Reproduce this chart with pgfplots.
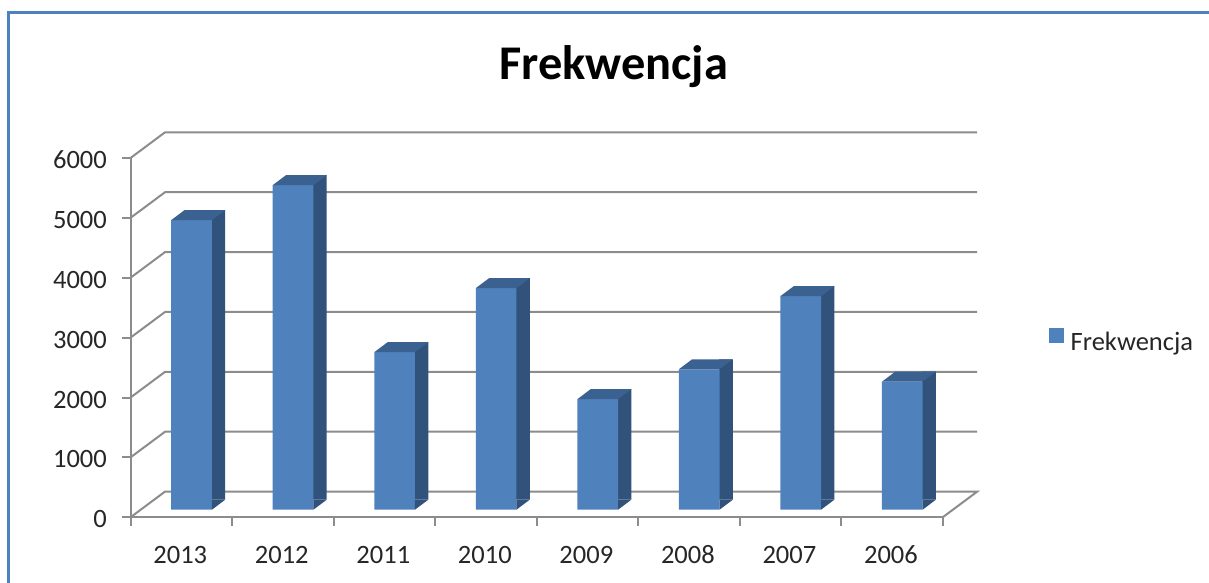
\documentclass[border=0pt]{standalone}
\usepackage{pgfplots}
\pgfplotsset{compat=1.18}
\usepackage{pgfplotstable}
\usepackage{fontspec}
\setmainfont{Carlito}
\definecolor{barfront}{HTML}{4F81BD}
\definecolor{barside}{HTML}{31527B}
\definecolor{bartop}{HTML}{3A6190}
\definecolor{gridgray}{HTML}{8C8C8C}
\pgfdeclareplotmark{topface}{\pgfpathmoveto{\pgfpoint{-5.025pt}{3.8pt}}\pgfpathlineto{\pgfpoint{15.325pt}{3.8pt}}\pgfpathlineto{\pgfpoint{21.975pt}{8.8pt}}\pgfpathlineto{\pgfpoint{1.625pt}{8.8pt}}\pgfpathclose\pgfusepathqfill}
\pgfdeclareplotmark{basetri}{\pgfpathmoveto{\pgfpoint{15.325pt}{3.8pt}}\pgfpathlineto{\pgfpoint{21.975pt}{8.8pt}}\pgfpathlineto{\pgfpoint{15.325pt}{8.8pt}}\pgfpathclose\pgfusepathqfill}
\pgfplotstableread{
x v
0.5 4836
1.5 5420
2.5 2630
3.5 3700
4.5 1845
5.5 2345
6.5 3565
7.5 2137
}\freq
\begin{document}
\begin{tikzpicture}
\path[use as bounding box] (0,0) rectangle (604.5pt,291.5pt);
\draw[barfront,line width=1.2pt] (4.3pt,0) -- (4.3pt,285.2pt) -- (604.5pt,285.2pt);
\begin{axis}[
  at={(65.25pt,32.85pt)},anchor=south west,
  scale only axis,width=406.1pt,height=179.65pt,
  xmin=0,xmax=8,ymin=0,ymax=6000,clip=false,
  axis x line=bottom,axis y line=left,
  axis line style={gridgray,line width=1pt,-},
  tick style={gridgray,line width=1pt},
  tick align=outside,major tick length=4.3pt,
  xtick={0,1,2,3,4,5,6,7,8},
  x tick label as interval,
  xticklabels={2013,2012,2011,2010,2009,2008,2007,2006},
  ytick={0,1000,2000,3000,4000,5000,6000},
  /pgf/number format/assume math mode=true,
  /pgf/number format/1000 sep={},
  tick label style={font=\fontsize{13.25pt}{15pt}\selectfont,text=black!85},
  yticklabel style={xshift=-4pt,yshift=-1pt},
  xticklabel style={yshift=-6.5pt,xshift=-0.5pt,text height=9pt,text depth=0pt},
  title={\bfseries Frekwencja},
  title style={at={(0.595,1.2226)},anchor=base,yshift=-6.5pt,font=\fontsize{24.2pt}{26pt}\selectfont,text=black},
  legend style={draw=none,fill=none,at={(1.131,0.485)},anchor=west,inner sep=0pt,outer sep=0pt,
    font=\fontsize{13.25pt}{15pt}\selectfont,text=black!85,legend cell align=left},
  legend image code/.code={\fill[barfront] (0pt,-3.6pt) rectangle (7.3pt,3.6pt);},
]
\addplot[forget plot,gridgray,line width=1pt] coordinates {(0,1000)(0.34,1429)(8.34,1429)};
\addplot[forget plot,gridgray,line width=1pt] coordinates {(0,2000)(0.34,2429)(8.34,2429)};
\addplot[forget plot,gridgray,line width=1pt] coordinates {(0,3000)(0.34,3429)(8.34,3429)};
\addplot[forget plot,gridgray,line width=1pt] coordinates {(0,4000)(0.34,4429)(8.34,4429)};
\addplot[forget plot,gridgray,line width=1pt] coordinates {(0,5000)(0.34,5429)(8.34,5429)};
\addplot[forget plot,gridgray,line width=1pt] coordinates {(0,6000)(0.34,6429)(8.34,6429)};
\addplot[forget plot,gridgray,line width=1pt] coordinates {(0,0)(0.34,429)(8.34,429)(8,0)};
\addplot[forget plot,ybar,draw=none,fill=barside,bar width=6.85pt,bar shift=18.55pt,yshift=8.8pt] table[x=x,y=v] {\freq};
\addplot[forget plot,only marks,mark=basetri,color=barside,fill=barside] table[x=x,y expr=0] {\freq};
\addplot[forget plot,only marks,mark=topface,color=bartop,fill=bartop] table[x=x,y=v] {\freq};
\addplot[ybar,draw=none,fill=barfront,bar width=20.35pt,bar shift=5.15pt,yshift=3.8pt] table[x=x,y=v] {\freq};
\addlegendentry{\hspace{1.5pt}Frekwencja}
\end{axis}
\end{tikzpicture}
\end{document}
